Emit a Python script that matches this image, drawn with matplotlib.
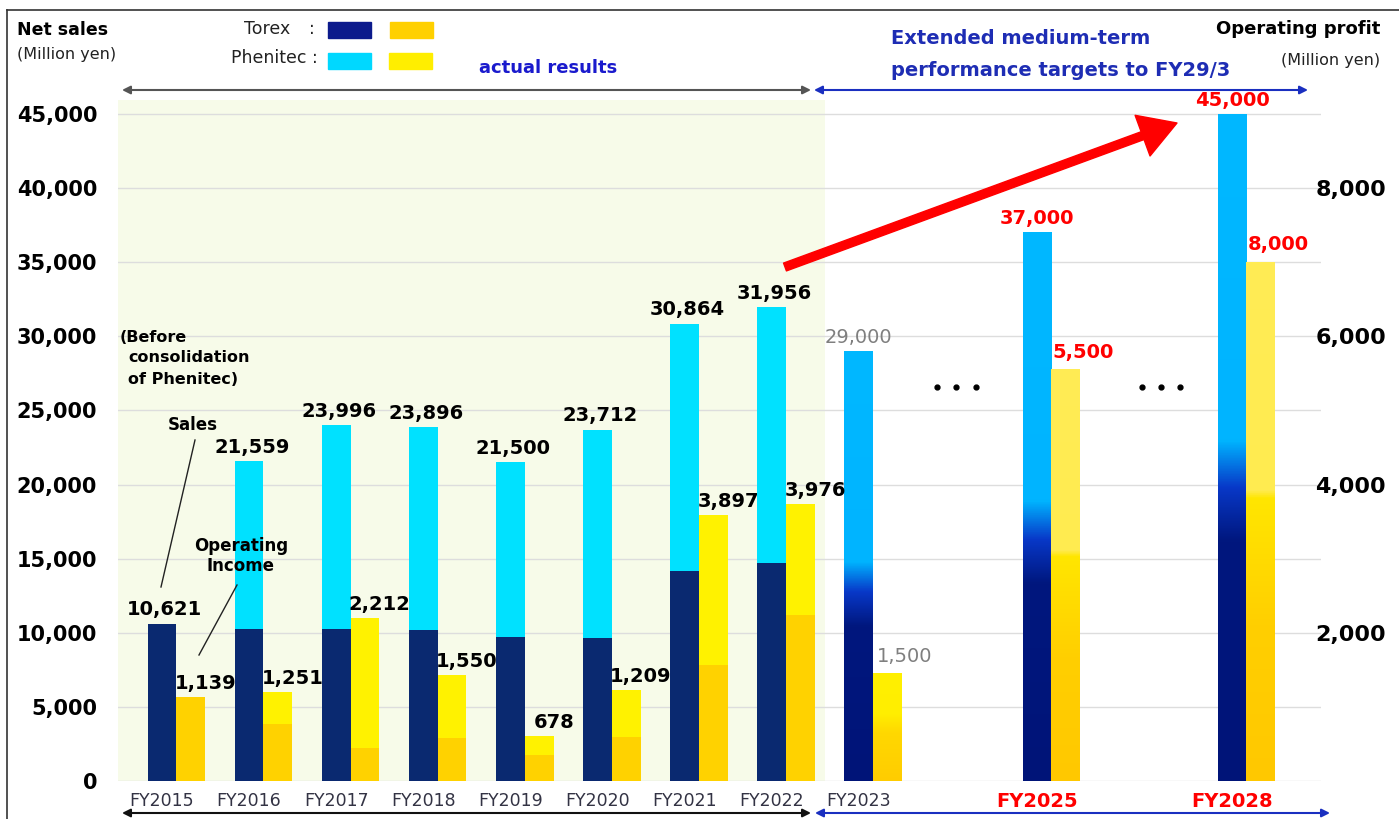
import matplotlib
matplotlib.use("Agg")
import matplotlib.pyplot as plt
import numpy as np
from matplotlib.colors import LinearSegmentedColormap
from matplotlib.patches import Rectangle, FancyArrowPatch
from matplotlib.lines import Line2D

# ---- data (million yen) ----
years = ['FY2015', 'FY2016', 'FY2017', 'FY2018', 'FY2019', 'FY2020',
         'FY2021', 'FY2022', 'FY2023', 'FY2025', 'FY2028']

# actual results FY2015-FY2022
sales_torex = [10621, 10260, 10260, 10190, 9720, 9650, 14170, 14700]
sales_total = [10621, 21559, 23996, 23896, 21500, 23712, 30864, 31956]
sales_labels = ['10,621', '21,559', '23,996', '23,896', '21,500', '23,712', '30,864', '31,956']
op_torex = [1134, 770, 445, 580, 350, 594, 1566, 2240]
op_total = [1134, 1200, 2200, 1430, 607, 1228, 3590, 3738]
op_labels = ['1,139', '1,251', '2,212', '1,550', '678', '1,209', '3,897', '3,976']

# plan / targets FY2023, FY2025, FY2028
plan_sales = [29000, 37000, 45000]
plan_sales_labels = ['29,000', '37,000', '45,000']
plan_op = [1444, 5546, 7000]
plan_op_labels = ['1,500', '5,500', '8,000']

# ---- layout ----
W, H = 1399, 819
slots = [0, 1, 2, 3, 4, 5, 6, 7, 8, 10.046, 12.285]
bw = 0.33
ymax = 45945

NAVY = '#0a2970'
CYAN = '#00e1ff'
GOLD = '#ffd200'
YELLOW = '#fff200'


def fpos(x, y):
    return x / W, 1 - y / H


fig = plt.figure(figsize=(W / 100, H / 100), dpi=100)
ax = fig.add_axes([118 / W, 1 - 781 / H, (1321 - 118) / W, (781 - 100) / H])
ax2 = ax.twinx()

ax.axvspan(-0.6, 7.61, color='#f7fbe9', zorder=0, lw=0)

n = len(sales_total)
xs = np.array(slots[:n])
ax.bar(xs, sales_torex, bw, color=NAVY, zorder=2)
ax.bar(xs, np.array(sales_total) - np.array(sales_torex), bw,
       bottom=sales_torex, color=CYAN, zorder=2)
ax2.bar(xs + bw, op_torex, bw, color=GOLD, zorder=2)
ax2.bar(xs + bw, np.array(op_total) - np.array(op_torex), bw,
        bottom=op_torex, color=YELLOW, zorder=2)

for i in range(n):
    ax.annotate(sales_labels[i], (xs[i] + 0.03, sales_total[i]), xytext=(0, 3),
                textcoords='offset points', ha='center', va='bottom',
                fontsize=14, fontweight='bold', color='black')
    ax2.annotate(op_labels[i], (xs[i] + bw + 0.17, op_total[i]), xytext=(0, 3),
                 textcoords='offset points', ha='center', va='bottom',
                 fontsize=14, fontweight='bold', color='black')

# gradient bars for plan
sales_cmap = LinearSegmentedColormap.from_list(
    'sales', [(0, '#001478'), (0.36, '#00177e'), (0.44, '#0838c8'),
              (0.51, '#00b4ff'), (1, '#00b8ff')])
op_cmap_a = LinearSegmentedColormap.from_list(
    'op_a', [(0, '#ffcc00'), (0.45, '#ffd800'), (0.62, '#ffee00'), (1, '#fff000')])
op_cmap_b = LinearSegmentedColormap.from_list(
    'op_b', [(0, '#ffc800'), (0.3, '#ffcf00'), (0.545, '#ffe600'),
             (0.56, '#ffeb50'), (1, '#ffec55')])
grad = np.linspace(0, 1, 256).reshape(-1, 1)
for j in range(len(plan_sales)):
    x = slots[n + j]
    ax.imshow(grad, extent=(x - bw / 2, x + bw / 2, 0, plan_sales[j]),
              origin='lower', cmap=sales_cmap, aspect='auto', zorder=2)
    cm = op_cmap_a if j == 0 else op_cmap_b
    ax2.imshow(grad, extent=(x + bw / 2, x + 1.5 * bw, 0, plan_op[j]),
               origin='lower', cmap=cm, aspect='auto', zorder=2)
    if j == 0:
        kw = dict(color='#7f7f7f', fontweight='normal')
    else:
        kw = dict(color='#ff0000', fontweight='bold')
    ax.annotate(plan_sales_labels[j], (x, plan_sales[j]), xytext=(0, 3),
                textcoords='offset points', ha='center', va='bottom',
                fontsize=14, **kw)
    ax2.annotate(plan_op_labels[j], (x + bw + 0.2, plan_op[j]), xytext=(0, 6),
                 textcoords='offset points', ha='center', va='bottom',
                 fontsize=14, **kw)

# axes styling
for a in (ax, ax2):
    a.set_xlim(-0.505, 13.306)
    for s in a.spines.values():
        s.set_visible(False)
ax.set_ylim(0, ymax)
ax2.set_ylim(0, ymax / 5)
ax.set_yticks(range(0, 45001, 5000))
ax.set_yticklabels(['{:,}'.format(v) for v in range(0, 45001, 5000)],
                   fontsize=15, fontweight='bold')
ax.tick_params(axis='y', length=0, pad=15)
ax2.set_yticks(range(2000, 8001, 2000))
ax2.set_yticklabels(['{:,}'.format(v) for v in range(2000, 8001, 2000)],
                    fontsize=16, fontweight='bold')
ax2.tick_params(axis='y', length=0, pad=-4)
ax.yaxis.grid(True, color='#dddddd', lw=1)
ax.set_axisbelow(True)
ax.set_xticks(slots)
ax.set_xticklabels(years, fontsize=12.5, color='#333344')
ax.tick_params(axis='x', length=0, pad=8)
for lab in ax.get_xticklabels()[-2:]:
    lab.set_color('#ff0000')
    lab.set_fontweight('bold')
    lab.set_fontsize(14)

# frame lines
fig.add_artist(Line2D([7 / W, 7 / W], [0, 1 - 10 / H], color='#333333', lw=1.2))
fig.add_artist(Line2D([7 / W, 1], [1 - 10 / H, 1 - 10 / H], color='#333333', lw=1.2))

# header texts
fig.text(*fpos(17, 30), 'Net sales', fontsize=12.5, fontweight='bold', va='center')
fig.text(*fpos(17, 55), '(Million yen)', fontsize=11.5, va='center', color='#222222')
fig.text(*fpos(290, 29), 'Torex', fontsize=12.5, ha='right', va='center', color='#222222')
fig.text(*fpos(312, 29), ':', fontsize=12.5, ha='center', va='center', color='#222222')
fig.text(*fpos(318, 58), 'Phenitec :', fontsize=12.5, ha='right', va='center', color='#222222')
for (x0, y0, c) in [(328, 22, '#0c1a8c'), (390, 22, '#ffd000'),
                    (328, 53, '#00d8ff'), (389, 53, '#ffee00')]:
    fig.add_artist(Rectangle(fpos(x0, y0 + 16), 43 / W, 16 / H,
                             transform=fig.transFigure, color=c))
fig.text(*fpos(548, 68), 'actual results', fontsize=13, fontweight='bold',
         ha='center', va='center', color='#1a1acd')
fig.text(*fpos(891, 39), 'Extended medium-term', fontsize=14, fontweight='bold',
         va='center', color='#1e2db4')
fig.text(*fpos(891, 70), 'performance targets to FY29/3', fontsize=14,
         fontweight='bold', va='center', color='#1e2db4')
fig.text(*fpos(1380, 29), 'Operating profit', fontsize=13, fontweight='bold',
         ha='right', va='center')
fig.text(*fpos(1380, 61), '(Million yen)', fontsize=11.5, ha='right', va='center',
         color='#222222')

# period arrows
def farrow(x0, x1, y, color):
    fig.add_artist(FancyArrowPatch(fpos(x0, y), fpos(x1, y), transform=fig.transFigure,
                                   arrowstyle='<|-|>', mutation_scale=12, lw=1.5,
                                   color=color, shrinkA=0, shrinkB=0))

farrow(122, 811, 90, '#555555')
farrow(814, 1308, 90, '#1a2fc0')
farrow(122, 811, 813, '#111111')
farrow(815, 1330, 813, '#1a2fc0')

# red growth arrow
fig.add_artist(FancyArrowPatch(fpos(785, 267), fpos(1177, 123), transform=fig.transFigure,
                               arrowstyle='simple,head_length=1.1,head_width=1.3,tail_width=0.25',
                               mutation_scale=24, color='#ff0000', shrinkA=0, shrinkB=0))

# side notes
fig.text(*fpos(120, 337), '(Before', fontsize=11.5, fontweight='bold', va='center')
fig.text(*fpos(128, 358), 'consolidation', fontsize=11.5, fontweight='bold', va='center')
fig.text(*fpos(128, 380), 'of Phenitec)', fontsize=11.5, fontweight='bold', va='center')
fig.text(*fpos(193, 425), 'Sales', fontsize=12, fontweight='bold', ha='center', va='center')
fig.text(*fpos(241, 556), 'Operating\nIncome', fontsize=12, fontweight='bold',
         ha='center', va='center', linespacing=1.15)
fig.add_artist(Line2D([195 / W, 161 / W], [1 - 440 / H, 1 - 587 / H], color='#222222', lw=1))
fig.add_artist(Line2D([237 / W, 199 / W], [1 - 585 / H, 1 - 655 / H], color='#222222', lw=1))

# ellipsis dots
for xd in (937, 956, 976, 1142, 1161, 1180):
    fig.add_artist(Line2D([xd / W], [1 - 387 / H], marker='o', markersize=3.5,
                          color='black', lw=0))

fig.savefig('out.png', dpi=100)
